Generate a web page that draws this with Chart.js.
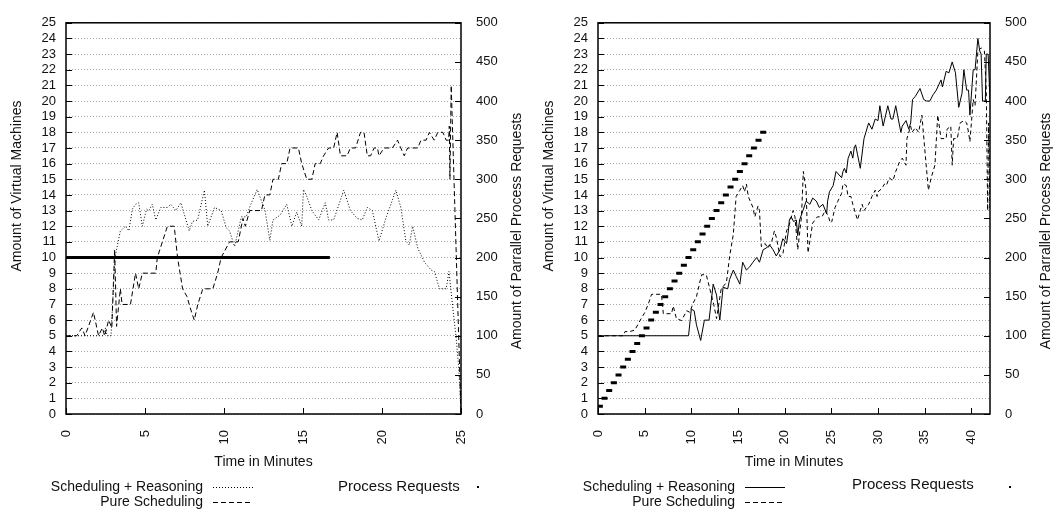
<!DOCTYPE html>
<html>
<head>
<meta charset="utf-8">
<script src="https://cdn.jsdelivr.net/npm/chart.js@4.4.1/dist/chart.umd.min.js"></script>
<style>
  html, body { margin: 0; padding: 0; background: #fff; }
  #wrap { position: relative; width: 1060px; height: 516px; }
  canvas { position: absolute; top: 0; }
  #left { left: 0; }
  #right { left: 530px; }
</style>
</head>
<body>
<div id="wrap">
  <canvas id="left" width="530" height="516"></canvas>
  <canvas id="right" width="530" height="516"></canvas>
</div>
<script>
// ---- data: [minute, value] ------------------------------------------------
// left plot, VMs (left axis)
const leftReasoning = [[0,5],[2.4,5],[2.5,5.5],[2.6,5],[2.85,5],[3.0,8],[3.1,10],[3.44,11.7],[3.77,12],[3.98,11.7],[4.2,13.1],[4.4,13.4],[4.6,13.5],[4.83,12],[5.1,13.1],[5.25,13],[5.46,13.4],[5.68,12.4],[6.0,13.2],[6.42,13.2],[6.63,13.4],[6.95,13],[7.27,13.5],[7.8,11.7],[8.0,12.3],[8.33,12.4],[8.76,14.3],[8.97,12],[9.4,13.2],[9.82,13],[10.14,11.9],[10.35,11.7],[10.67,10.7],[11.1,12.6],[11.4,12.6],[11.7,13.4],[12.1,14.35],[12.6,13],[12.9,11.1],[13.1,12.4],[13.54,12.7],[13.97,13.4],[14.3,12],[14.6,12.9],[14.92,12],[15.03,14.35],[15.24,13.9],[15.56,13],[15.99,12.4],[16.41,13.5],[16.62,12.4],[16.94,12.4],[17.58,14.3],[18.0,13],[18.43,12.5],[18.75,12.4],[19.07,13.2],[19.39,13],[19.81,11.05],[20.24,12.5],[20.88,14.3],[21.19,13.2],[21.51,11.05],[21.73,10.8],[21.94,12],[22.26,10.6],[22.69,9.7],[23.11,9.2],[23.32,9.1],[23.64,8],[24.06,8],[24.24,9.1],[24.49,6.7],[24.7,4.8],[24.85,3],[24.95,1.2],[25,0]];
const leftPure = [[0,5],[0.68,5],[1.0,5.5],[1.21,5],[1.74,6.5],[2.06,5],[2.3,5.5],[2.45,5],[2.7,6],[2.9,5.5],[3.08,10.5],[3.2,5.6],[3.44,8],[3.55,7],[4.08,7],[4.4,9],[4.6,8],[4.83,9],[5.68,9],[5.78,10],[6.1,11],[6.42,12],[6.85,12],[7.06,10],[7.38,8],[7.66,7.5],[7.8,7],[7.95,6.5],[8.12,6],[8.34,7],[8.66,8],[8.97,8],[9.29,8],[9.6,9],[9.82,10],[10.35,11],[10.9,11],[11.2,12.5],[11.35,12],[11.63,13],[12.37,13],[12.59,14],[12.9,14],[13.1,15],[13.44,15],[13.65,16],[13.97,16],[14.18,17],[14.71,17],[14.92,16],[15.24,15],[15.56,15],[15.77,16],[16.09,16],[16.3,16.5],[16.62,17],[16.94,17],[17.16,18],[17.37,16.5],[17.79,16.5],[18.0,17],[18.33,17],[18.64,18],[18.86,18],[19.07,16.5],[19.28,16.5],[19.5,17],[19.71,17],[19.81,16.5],[20.13,17],[20.66,17],[20.98,17.5],[21.19,17],[21.41,16.5],[21.62,17],[22.26,17],[22.47,17.5],[22.79,17.5],[23.0,18],[23.3,17.5],[23.53,18],[23.85,18],[24.06,17.5],[24.22,17.5],[24.26,18.4],[24.3,15],[24.38,21],[25,0]];
// left plot, parallel requests (right axis)
const leftRequests = [[0,200],[16.7,200]];

// right plot, VMs (left axis)
const rightReasoning = [[0,5],[9.7,5],[10.0,6.7],[10.3,6.6],[10.55,5.7],[11.0,4.7],[11.4,6.0],[11.9,6.0],[12.34,8.3],[12.7,7.6],[13.05,6.0],[13.4,8.1],[13.9,8.0],[14.1,8.6],[14.5,9.2],[14.8,8.8],[15.2,8.3],[15.5,9.7],[15.9,9.2],[16.25,9.4],[16.6,9.7],[17.0,10.0],[17.3,9.7],[17.7,10.5],[18.0,10.6],[18.4,10.8],[18.75,10.5],[19.1,10.1],[19.5,10.5],[19.8,11.2],[20.2,10.9],[20.4,11.7],[20.5,12.4],[20.7,12.6],[20.95,12.3],[21.25,12.4],[21.4,11.4],[21.6,12.4],[21.96,13.0],[22.3,13.6],[22.7,13.4],[23.0,13.8],[23.4,13.6],[23.7,13.2],[24.1,13.4],[24.5,12.8],[24.6,13.6],[24.8,14.2],[25.2,14.6],[25.5,15.5],[26.1,15.1],[26.25,15.5],[26.4,15.7],[26.6,15.4],[26.8,16.35],[27.1,16.8],[27.3,16.35],[27.45,17.0],[27.6,17.2],[27.8,16.6],[28.1,15.7],[28.5,17.6],[28.7,18.0],[29.0,18.6],[29.35,18.2],[29.7,18.85],[30.0,18.75],[30.2,19.7],[30.55,18.4],[30.9,19.3],[31.05,19.7],[31.4,18.85],[31.6,18.85],[31.9,19.7],[32.45,18.0],[32.6,18.4],[33.0,18.75],[33.3,18.2],[33.5,18.6],[33.7,20.1],[34.0,20.3],[34.5,20.8],[34.9,20.1],[35.2,20.0],[35.55,20.0],[35.9,20.4],[36.25,20.7],[36.75,21.35],[36.9,20.9],[37.3,21.9],[37.6,21.8],[37.95,22.5],[38.3,21.8],[38.65,19.6],[39.0,20.5],[39.2,22.0],[39.5,20.7],[39.7,20.7],[39.85,19.1],[40.2,22.0],[40.4,22.0],[40.7,24.0],[40.9,23.2],[41.05,23.0],[41.2,20.0],[41.5,20.0],[41.6,23.0],[41.8,23.0],[42.0,20.0]];
const rightPure = [[0,5],[2.7,5],[2.9,5.27],[3.42,5.27],[3.96,5.37],[4.5,5.97],[5.03,6.5],[5.4,7.04],[5.74,7.65],[6.8,7.65],[7.0,6.41],[7.88,6.41],[8.06,6.9],[8.4,6.1],[8.95,5.97],[9.5,6.6],[9.84,6.5],[10.2,7.1],[10.55,7.5],[11.1,8.9],[11.6,8.9],[11.98,8.0],[12.4,7.0],[12.7,6.1],[13.2,8.0],[13.76,8.4],[14.1,10.05],[14.5,11.5],[14.8,13.9],[15.2,14.3],[15.5,14.6],[15.7,14.2],[15.9,14.7],[16.1,13.9],[16.6,13.2],[16.8,12.6],[17.15,13.3],[17.3,13.0],[17.5,10.7],[17.9,10.9],[18.2,10.6],[18.6,11.0],[18.9,11.7],[19.1,11.3],[19.5,10.05],[19.8,10.2],[20.2,11.7],[20.5,12.1],[20.9,13.0],[21.1,12.6],[21.4,10.5],[21.8,12.6],[22.0,15.5],[22.3,14.3],[22.5,10.3],[23.0,12.2],[23.5,12.6],[24.0,12.6],[24.35,13.0],[24.7,12.6],[24.9,12.2],[25.05,12.3],[25.4,13.2],[25.7,13.6],[26.1,14.1],[26.25,14.7],[26.6,14.6],[26.8,13.9],[27.1,13.9],[27.3,13.4],[27.8,12.4],[28.1,13.0],[28.3,13.4],[28.5,13.0],[29.0,13.4],[29.35,13.9],[29.7,14.3],[29.9,13.9],[30.0,14.2],[30.4,14.4],[30.7,14.7],[30.9,14.6],[31.2,15.1],[31.6,14.9],[31.9,15.5],[32.3,16.1],[32.6,16.35],[33.0,15.9],[33.1,17.6],[33.5,18.4],[33.65,18.0],[34.0,18.3],[34.35,18.0],[34.7,19.1],[35.0,17.0],[35.4,14.3],[35.7,15.1],[36.1,15.9],[36.4,19.1],[36.75,17.6],[37.3,17.6],[37.4,18.2],[37.8,18.4],[37.95,15.9],[38.1,17.6],[38.5,17.6],[38.8,18.6],[39.2,18.75],[39.5,18.6],[39.7,18.0],[39.85,17.4],[40.2,20.1],[40.4,19.7],[40.7,23.2],[41.05,23.4],[41.4,23.2],[41.6,20.7],[41.75,13.0],[41.85,18.6],[42.0,13.0]];
// right plot, parallel requests (right axis)
const rightRequests = [[0.2,10],[0.7,20],[1.2,30],[1.7,40],[2.2,50],[2.7,60],[3.2,70],[3.7,80],[4.2,90],[4.7,100],[5.2,110],[5.7,120],[6.2,130],[6.7,140],[7.2,150],[7.7,160],[8.2,170],[8.7,180],[9.2,190],[9.7,200],[10.2,210],[10.7,220],[11.2,230],[11.7,240],[12.2,250],[12.7,260],[13.2,270],[13.7,280],[14.2,290],[14.7,300],[15.2,310],[15.7,320],[16.2,330],[16.7,340],[17.2,350],[17.7,360]];

// axis ranges
const vmMax = 25;
const requestMax = 500;
const leftMinutes = 25;
const rightMinutes = 42;

// ---- styling ---------------------------------------------------------------
const FONT = '"Liberation Sans", Arial, Helvetica, sans-serif';
Chart.defaults.font.family = FONT;
Chart.defaults.color = '#111';

const toPoints = pairs => pairs.map(p => ({ x: p[0], y: p[1] }));

/**
 * gnuplot-like frame: box border, inward ticks, axis titles, key
 */
const framePlugin = {
    id: 'frame',
    afterDraw(chart, args, opts) {
        const { ctx, chartArea: a, scales } = chart;
        ctx.save();

        // inward tick marks
        ctx.strokeStyle = '#000';
        ctx.lineWidth = 1;
        ctx.beginPath();
        scales.y.ticks.forEach(t => {
            const y = Math.round(scales.y.getPixelForValue(t.value)) + 0.5;
            ctx.moveTo(a.left, y); ctx.lineTo(a.left + 6, y);
        });
        scales.y2.ticks.forEach(t => {
            const y = Math.round(scales.y2.getPixelForValue(t.value)) + 0.5;
            ctx.moveTo(a.right, y); ctx.lineTo(a.right - 6, y);
        });
        scales.x.ticks.forEach(t => {
            const x = Math.round(scales.x.getPixelForValue(t.value)) + 0.5;
            ctx.moveTo(x, a.bottom); ctx.lineTo(x, a.bottom - 6);
        });
        ctx.stroke();

        // border
        ctx.lineWidth = 1.5;
        ctx.strokeRect(a.left, a.top, a.right - a.left, a.bottom - a.top);

        // axis titles
        ctx.fillStyle = '#111';
        ctx.font = '14px ' + FONT;
        ctx.textAlign = 'center';
        ctx.textBaseline = 'middle';
        ctx.fillText('Time in Minutes', (a.left + a.right) / 2, 462);

        ctx.save();
        ctx.translate(a.left - 49, 186);
        ctx.rotate(-Math.PI / 2);
        ctx.fillText('Amount of Virtual Machines', 0, 0);
        ctx.restore();

        ctx.save();
        ctx.translate(a.right + 56, 231);
        ctx.rotate(-Math.PI / 2);
        ctx.fillText('Amount of Parrallel Process Requests', 0, 0);
        ctx.restore();

        // key
        const k = opts.key;
        ctx.textAlign = 'right';
        ctx.fillText('Scheduling + Reasoning', a.left + 137, 487);
        ctx.fillText('Pure Scheduling', a.left + 137, 502);
        ctx.textAlign = 'left';
        ctx.font = '15px ' + FONT;
        ctx.fillText('Process Requests', a.left + k.requestsX, k.requestsY);

        ctx.lineWidth = 1;
        ctx.beginPath();
        ctx.setLineDash(k.reasoningDash);
        ctx.moveTo(a.left + 147, 487.5); ctx.lineTo(a.left + 187, 487.5);
        ctx.stroke();
        ctx.beginPath();
        ctx.setLineDash([5, 3]);
        ctx.moveTo(a.left + 147, 502.5); ctx.lineTo(a.left + 187, 502.5);
        ctx.stroke();
        ctx.setLineDash([]);
        ctx.fillStyle = '#000';
        ctx.fillRect(a.left + 411, 486, 2, 2);

        ctx.restore();
    }
};

function buildChart(canvasId, cfg) {
    const tickFont = { size: 13 };
    return new Chart(document.getElementById(canvasId), {
        type: 'line',
        data: { datasets: cfg.datasets },
        options: {
            responsive: false,
            animation: false,
            layout: { padding: { top: 15, left: 0, right: 0, bottom: 0 } },
            plugins: {
                legend: { display: false },
                tooltip: { enabled: false },
                frame: { key: cfg.key }
            },
            scales: {
                x: {
                    type: 'linear',
                    min: 0,
                    max: cfg.maxMinutes,
                    grid: { display: false },
                    border: { display: false },
                    ticks: {
                        stepSize: 5,
                        includeBounds: false,
                        autoSkip: false,
                        minRotation: 90,
                        maxRotation: 90,
                        padding: 8,
                        font: tickFont,
                        color: '#111'
                    },
                    afterFit: s => { s.height = 102; }
                },
                y: {
                    position: 'left',
                    min: 0,
                    max: vmMax,
                    grid: { color: '#a8a8a8', lineWidth: 1, drawTicks: false },
                    border: { display: false, dash: [1, 2] },
                    ticks: { stepSize: 1, autoSkip: false, padding: 10, font: tickFont, color: '#111' },
                    afterFit: s => { s.width = cfg.leftWidth; }
                },
                y2: {
                    position: 'right',
                    min: 0,
                    max: requestMax,
                    grid: { display: false, drawTicks: false },
                    border: { display: false },
                    ticks: { stepSize: 50, autoSkip: false, padding: 15, font: tickFont, color: '#111' },
                    afterFit: s => { s.width = cfg.rightWidth; }
                }
            }
        },
        plugins: [framePlugin]
    });
}

const lineBase = { borderColor: '#000', backgroundColor: '#000', borderWidth: 1, pointRadius: 0, tension: 0, fill: false };

buildChart('left', {
    maxMinutes: leftMinutes,
    leftWidth: 66,
    rightWidth: 69,
    key: { reasoningDash: [1, 2], requestsX: 272, requestsY: 487 },
    datasets: [
        { ...lineBase, label: 'Scheduling + Reasoning', data: toPoints(leftReasoning), yAxisID: 'y', borderDash: [1, 2] },
        { ...lineBase, label: 'Pure Scheduling', data: toPoints(leftPure), yAxisID: 'y', borderDash: [5, 3] },
        { ...lineBase, label: 'Process Requests', data: toPoints(leftRequests), yAxisID: 'y2', borderWidth: 3 }
    ]
});

buildChart('right', {
    maxMinutes: rightMinutes,
    leftWidth: 68,
    rightWidth: 70,
    key: { reasoningDash: [], requestsX: 254, requestsY: 485 },
    datasets: [
        { ...lineBase, label: 'Scheduling + Reasoning', data: toPoints(rightReasoning), yAxisID: 'y' },
        { ...lineBase, label: 'Pure Scheduling', data: toPoints(rightPure), yAxisID: 'y', borderDash: [4, 3] },
        {
            ...lineBase, label: 'Process Requests', data: toPoints(rightRequests), yAxisID: 'y2',
            showLine: false, pointStyle: 'line', pointRadius: 3, pointBorderWidth: 3
        }
    ]
});
</script>
</body>
</html>
